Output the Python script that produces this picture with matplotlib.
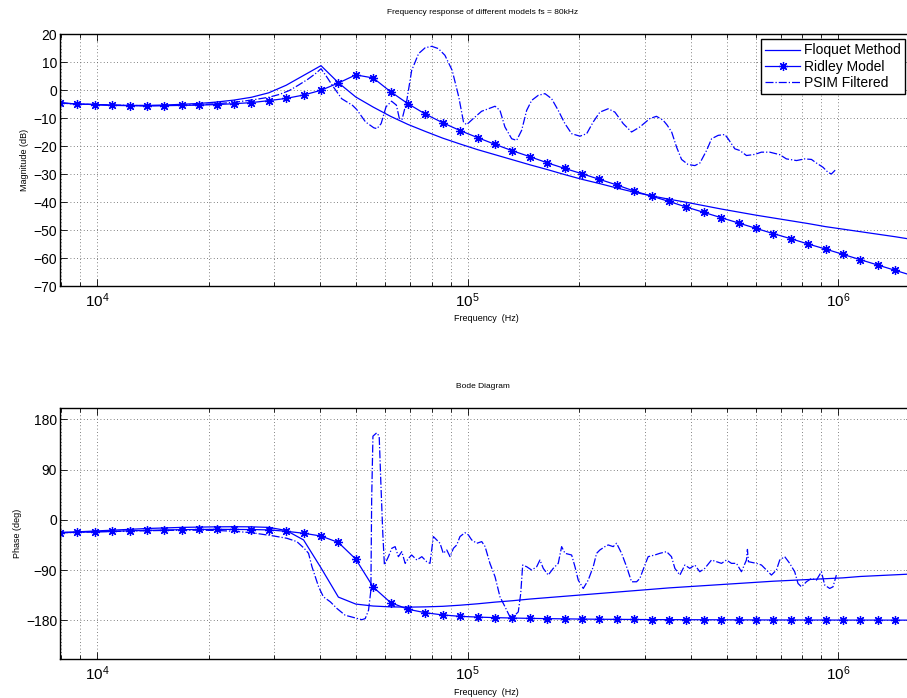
import numpy as np
import matplotlib
matplotlib.use('Agg')
import matplotlib.pyplot as plt
from matplotlib.ticker import LogLocator, NullFormatter, FixedLocator

plt.rcParams['font.family'] = ['Liberation Sans', 'DejaVu Sans']
plt.rcParams['mathtext.default'] = 'regular'

# model frequency grid (Hz)
freq = [7943, 8849, 9860, 10985, 12240, 13636, 15193, 16927, 18859, 21012,
        23411, 26083, 29060, 32376, 36072, 40190, 44777, 49888, 55582, 61926,
        68995, 76869, 85643, 95418, 106310, 118444, 131963, 147025, 163806, 182502,
        203333, 226541, 252399, 281208, 313304, 349064, 388906, 433296, 482751, 537851,
        599240, 667637, 743840, 828741, 923330, 1028714, 1146127, 1276941, 1422686, 1584893]

floquet_mag = [-4.6, -5.0, -5.2, -5.4, -5.5, -5.5, -5.4, -5.1, -4.8, -4.3,
               -3.6, -2.6, -1.0, 1.7, 5.2, 8.7, 2.6, -2.5, -6.1, -9.4,
               -12.3, -14.8, -17.2, -19.3, -21.3, -23.1, -24.9, -26.7, -28.4, -30.2,
               -31.9, -33.4, -35.0, -36.5, -37.8, -39.0, -40.1, -41.3, -42.5, -43.6,
               -44.7, -45.7, -46.7, -47.7, -48.8, -49.7, -50.6, -51.5, -52.4, -53.4]

ridley_mag = [-4.6, -5.0, -5.2, -5.5, -5.6, -5.7, -5.6, -5.5, -5.4, -5.2,
              -4.9, -4.5, -3.8, -3.0, -1.8, -0.1, 2.5, 5.4, 4.3, -0.6,
              -4.9, -8.6, -11.7, -14.5, -17.0, -19.4, -21.7, -23.8, -26.0, -28.0,
              -29.9, -31.9, -33.9, -36.1, -37.9, -39.8, -41.8, -43.7, -45.6, -47.5,
              -49.4, -51.3, -53.1, -55.0, -56.8, -58.7, -60.6, -62.5, -64.4, -66.3]

floquet_phase = [-22.5, -21.5, -20, -18.5, -17, -15.5, -14.5, -13.5, -13, -12.5,
                 -12.3, -12.5, -13.5, -19, -36, -86, -138.5, -151, -154.5, -156,
                 -156.5, -156, -155, -153, -150.5, -147.5, -145, -142, -139.5, -137,
                 -134.5, -132, -129.5, -127, -124.5, -122, -120, -118, -116, -114,
                 -112, -110, -108.5, -107, -105.5, -104, -101.5, -100, -98.5, -97]

ridley_phase = [-23, -22.4, -21.4, -20.6, -19.6, -18.8, -18.2, -17.6, -17.2, -17,
                -17.2, -17.4, -18, -20.5, -24, -29, -40.5, -70.5, -120.5, -148.3,
                -160.3, -166.5, -170.5, -173, -174.3, -175.3, -176, -176.6, -177.1, -177.5,
                -177.9, -178.2, -178.4, -178.6, -178.8, -178.9, -179.0, -179.1, -179.2, -179.3,
                -179.4, -179.5, -179.5, -179.6, -179.6, -179.7, -179.7, -179.7, -179.8, -179.8]

# PSIM simulation (filtered)
psim_mag_freq = [7943, 8850, 9860, 11000, 12240, 13640, 15190, 16930, 18860, 21010,
                 23410, 26080, 29060, 31000, 33000, 35000, 37000, 38800, 40200, 41700,
                 43100, 45700, 48900, 50200, 53000, 55800, 56900, 58400, 60200, 62300,
                 64200, 65400, 66500, 68500, 70600, 73700, 76800, 80000, 83300, 86800,
                 90800, 94600, 97400, 99300, 103500, 109000, 113700, 118500, 122200, 126000,
                 131400, 135500, 139800, 144200, 148800, 155000, 161600, 168400, 175500, 182900,
                 190700, 200800, 209400, 218100, 227300, 239300, 249500, 262700, 276700, 291400,
                 310000, 323000, 336700, 345000, 355000, 366000, 377500, 393000, 410000, 423000,
                 441000, 455000, 474000, 494000, 504000, 525500, 542000, 565000, 595000, 620000,
                 653000, 695000, 724000, 771000, 811000, 846000, 873000, 909000, 937600, 957500,
                 987600]
psim_mag = [-4.7, -5.0, -5.2, -5.4, -5.5, -5.6, -5.5, -5.4, -5.2, -4.9,
            -4.4, -3.6, -2.6, -1.6, -0.2, 1.8, 3.8, 5.8, 7.6, 4.6,
            1.7, -3.1, -5.5, -7.0, -11.4, -13.5, -13.8, -12.0, -6.0, -4.0,
            -5.4, -10.2, -10.5, -3.7, 7.0, 13.0, 15.1, 15.6, 14.8, 12.4,
            7.0, -2.5, -11.4, -12.4, -10.2, -7.6, -6.7, -5.8, -7.3, -13.2,
            -17.4, -18.0, -14.4, -7.3, -3.7, -1.9, -1.3, -3.1, -7.3, -12.0,
            -15.6, -16.5, -15.6, -11.4, -7.9, -6.7, -7.9, -12.0, -15.0, -13.2,
            -10.2, -9.4, -10.8, -12.5, -15.0, -20.4, -24.8, -26.6, -27.0, -26.1,
            -21.6, -17.4, -16.2, -15.9, -17.4, -21.0, -21.6, -23.4, -23.0, -22.2,
            -22.2, -23.1, -24.6, -25.2, -24.6, -24.8, -26.1, -27.6, -29.4, -30.0,
            -28.2]

psim_ph_freq = [7943, 8850, 9860, 11000, 12240, 13640, 15190, 16930, 18860, 21010,
                23410, 26080, 29900, 32500, 34600, 36200, 37200, 38000, 38800, 39600,
                40800, 42600, 44400, 46700, 49200, 51800, 52900, 54000, 54800, 55060,
                55500, 56800, 57700, 58300, 59000, 59600, 61100, 62400, 63700, 65000,
                66400, 67800, 69200, 70600, 72900, 75200, 77500, 79100, 80800, 82500,
                84200, 85900, 87800, 89600, 91500, 93400, 95300, 98300, 100400, 102500,
                105800, 109100, 111400, 114800, 118500, 122200, 126100, 130000, 134100, 136900,
                139000, 140700, 144200, 148800, 153500, 156600, 159900, 164900, 170100, 175500,
                179200, 183000, 190700, 194700, 198700, 205000, 211400, 218100, 222700, 227300,
                234500, 239300, 246900, 252100, 260100, 268300, 276700, 285500, 291400, 300600,
                306800, 319800, 329900, 344000, 354600, 362200, 373600, 385300, 397400, 410000,
                422800, 436100, 454700, 469100, 483800, 499000, 514800, 531000, 547600, 564900,
                568400, 572000, 601200, 620200, 639700, 659800, 680600, 694700, 716600, 739100,
                762400, 778200, 794800, 820000, 845900, 872600, 900100, 918700, 947600, 967200,
                987600]
psim_phase = [-23, -22.5, -21.5, -21, -20, -19.5, -19, -18.5, -18.5, -19,
              -20.5, -23, -28.8, -33, -39, -51, -60, -84, -102, -120,
              -138, -147, -159, -171, -175, -179, -177, -162, -126, 36,
              150, 156, 150, 66, -24, -81, -66, -51, -48, -66,
              -57, -78, -69, -63, -72, -66, -75, -78, -30, -36,
              -42, -60, -54, -66, -51, -45, -30, -23, -27, -36,
              -42, -39, -48, -78, -102, -138, -156, -174, -171, -165,
              -132, -81, -84, -90, -84, -72, -87, -99, -87, -78,
              -48, -60, -63, -84, -108, -123, -108, -84, -60, -54,
              -48, -45, -48, -42, -60, -84, -111, -111, -105, -81,
              -66, -63, -60, -57, -66, -87, -99, -81, -87, -81,
              -93, -87, -72, -75, -78, -72, -78, -78, -93, -72,
              -53, -75, -78, -81, -90, -99, -90, -72, -66, -78,
              -93, -114, -120, -111, -105, -108, -93, -117, -123, -120,
              -99]

blue = (0, 0, 1)
lw = 0.9
asterisk = (8, 2, 0)

fig = plt.figure(figsize=(9.07, 6.98), dpi=100)
ax1 = fig.add_axes([60 / 907, 1 - 286 / 698, 852.5 / 907, 252 / 698])
ax2 = fig.add_axes([60 / 907, 1 - 659.3 / 698, 852.5 / 907, 251 / 698])

# magnitude
ax1.semilogx(freq, floquet_mag, '-', color=blue, lw=lw, label='Floquet Method')
ax1.semilogx(freq, ridley_mag, '-', color=blue, lw=lw, marker=asterisk,
             markersize=6.5, markeredgewidth=0.9, label='Ridley Model')
ax1.semilogx(psim_mag_freq, psim_mag, '-.', color=blue, lw=lw, label='PSIM Filtered')
ax1.set_ylim(-70, 20)
ax1.yaxis.set_major_locator(FixedLocator(np.arange(-70, 21, 10)))
ax1.set_ylabel('Magnitude (dB)', fontsize=6.5, labelpad=3)
ax1.set_xlabel('Frequency  (Hz)', fontsize=6.5, labelpad=3)

# phase
ax2.semilogx(freq, floquet_phase, '-', color=blue, lw=lw)
ax2.semilogx(freq, ridley_phase, '-', color=blue, lw=lw, marker=asterisk,
             markersize=6.5, markeredgewidth=0.9)
ax2.semilogx(psim_ph_freq, psim_phase, '-.', color=blue, lw=lw)
ax2.set_ylim(-250, 200)
ax2.yaxis.set_major_locator(FixedLocator([-180, -90, 0, 90, 180]))
ax2.set_ylabel('Phase (deg)', fontsize=6.5, labelpad=3)
ax2.set_xlabel('Frequency  (Hz)', fontsize=6.5, labelpad=3)

for ax in (ax1, ax2):
    ax.set_xlim(10 ** 3.9, 10 ** 6.2)
    ax.xaxis.set_major_locator(LogLocator(base=10))
    ax.xaxis.set_minor_locator(LogLocator(base=10, subs=np.arange(2, 10)))
    ax.xaxis.set_minor_formatter(NullFormatter())
    ax.tick_params(which='both', direction='in', top=True, right=True, labelsize=10)
    ax.tick_params(axis='x', which='major', labelsize=11, pad=4)
    ax.tick_params(which='major', length=5, width=0.6)
    ax.tick_params(axis='y', which='major', pad=2)
    ax.tick_params(which='minor', length=3, width=0.6)
    ax.grid(True, which='major', color='0.35', linestyle=(0, (1, 3)), lw=0.6)
    ax.xaxis.grid(True, which='minor', color='0.35', linestyle=(0, (1, 3)), lw=0.6)
    for s in ax.spines.values():
        s.set_linewidth(1.0)

leg = ax1.legend(loc='upper left', bbox_to_anchor=(761 / 907, 1 - 39.3 / 698),
                 bbox_transform=fig.transFigure, fontsize=10, fancybox=False,
                 edgecolor='k', framealpha=1, borderpad=0.3, handlelength=2.5,
                 handletextpad=0.3, labelspacing=0.17, borderaxespad=0)
leg.get_frame().set_linewidth(1.0)

fig.text(483 / 907, 1 - 13 / 698, 'Frequency response of different models fs = 80kHz',
         ha='center', va='center', fontsize=6)
fig.text(483 / 907, 1 - 387 / 698, 'Bode Diagram', ha='center', va='center', fontsize=6)

fig.savefig('out.png', dpi=100)
